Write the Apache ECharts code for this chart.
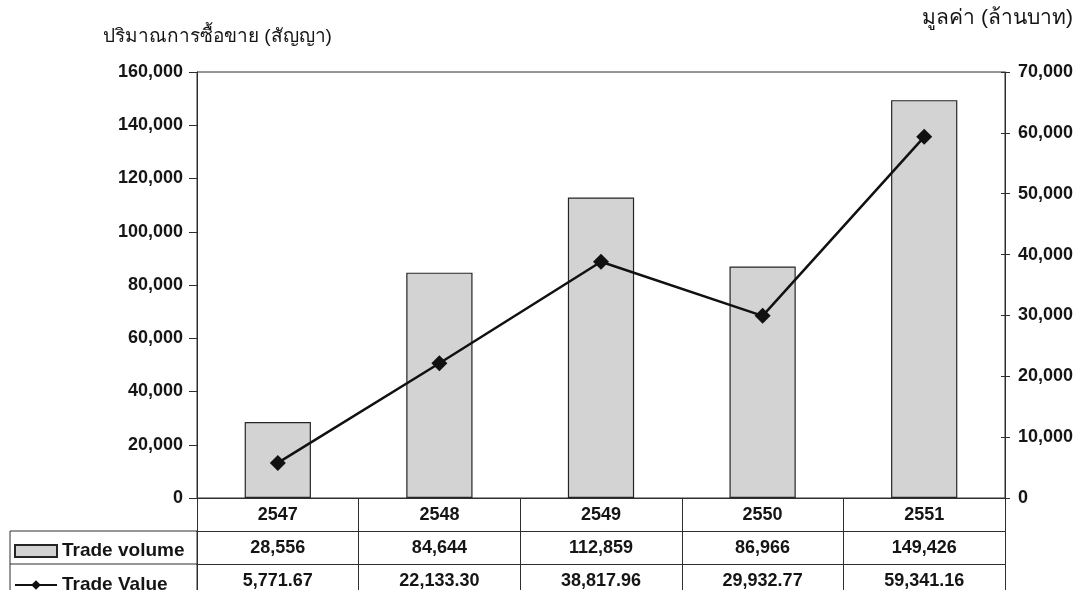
<!DOCTYPE html>
<html>
<head>
<meta charset="utf-8">
<script src="https://cdn.jsdelivr.net/npm/echarts@6/dist/echarts.min.js"></script>
<style>
  html, body { margin: 0; padding: 0; background: #ffffff; }
  #chart { width: 1082px; height: 590px; }
</style>
</head>
<body>
<div id="chart"></div>
<script>
// Years (Buddhist Era)
const years = ['2547', '2548', '2549', '2550', '2551'];
// Trade volume (contracts)
const tradeVolume = [28556, 84644, 112859, 86966, 149426];
// Trade value (million baht)
const tradeValue = [5771.67, 22133.30, 38817.96, 29932.77, 59341.16];
// Axis titles
const leftAxisTitle = 'ปริมาณการซื้อขาย (สัญญา)';
const rightAxisTitle = 'มูลค่า (ล้านบาท)';
const seriesNames = ['Trade volume', 'Trade Value'];

const FONT = '"Liberation Sans", Arial, "DejaVu Sans", sans-serif';
const INK = '#151515';
const RULE = '#2e2e2e';

const fmtInt = v => Number(v).toLocaleString('en-US');
const fmtDec = v => Number(v).toLocaleString('en-US', { minimumFractionDigits: 2, maximumFractionDigits: 2 });

const labelStyle = { fontFamily: FONT, fontSize: 18, fontWeight: 'bold', color: INK };

// one row of the data table under the plot, drawn as a category axis
function tableAxis(offset, formatter) {
  return {
    type: 'category',
    data: years,
    position: 'bottom',
    offset: offset,
    axisLine: { show: true, onZero: false, lineStyle: { color: RULE, width: 1 } },
    axisTick: { show: true, interval: 0, length: 33, lineStyle: { color: RULE, width: 1 } },
    axisLabel: Object.assign({ interval: 0, margin: 8, formatter: formatter }, labelStyle),
    splitLine: { show: false }
  };
}

// caption cell of the data table: series key + name
function legendRow(name, top, icon) {
  return {
    orient: 'horizontal',
    left: 9,
    top: top,
    itemWidth: 42,
    itemHeight: 12,
    itemGap: 5,
    textStyle: Object.assign({}, labelStyle, { fontSize: 19, lineHeight: 20 }),
    data: [icon ? { name: name, icon: icon } : { name: name }],
    selectedMode: false
  };
}

const chart = echarts.init(document.getElementById('chart'), null, { renderer: 'canvas' });

chart.setOption({
  animation: false,
  backgroundColor: '#ffffff',
  title: [
    { text: leftAxisTitle, left: 98, top: 22,
      textStyle: { fontFamily: FONT, fontSize: 19, fontWeight: 'normal', color: INK } },
    { text: rightAxisTitle, right: 4, top: 3,
      textStyle: { fontFamily: FONT, fontSize: 21, fontWeight: 'normal', color: INK } }
  ],
  grid: {
    left: 197, right: 77, top: 72, bottom: 92,
    show: true, borderColor: RULE, borderWidth: 1, backgroundColor: 'transparent'
  },
  legend: [
    legendRow(seriesNames[0], 536, 'rect'),
    legendRow(seriesNames[1], 570)
  ],
  xAxis: [
    tableAxis(0, v => v),
    tableAxis(33, (v, i) => fmtInt(tradeVolume[i])),
    tableAxis(66, (v, i) => fmtDec(tradeValue[i]))
  ],
  yAxis: [
    {
      type: 'value', min: 0, max: 160000, interval: 20000, position: 'left',
      axisLine: { show: true, lineStyle: { color: RULE } },
      axisTick: { show: true, length: 8, lineStyle: { color: RULE } },
      axisLabel: Object.assign({ margin: 14, formatter: fmtInt }, labelStyle),
      splitLine: { show: false }
    },
    {
      type: 'value', min: 0, max: 70000, interval: 10000, position: 'right',
      axisLine: { show: true, lineStyle: { color: RULE } },
      axisTick: { show: true, length: 5, lineStyle: { color: RULE } },
      axisLabel: Object.assign({ margin: 13, formatter: fmtInt }, labelStyle),
      splitLine: { show: false }
    },
    {
      // inner half of the crossing ticks on the value axis
      type: 'value', min: 0, max: 70000, interval: 10000, position: 'right',
      axisLine: { show: false },
      axisTick: { show: true, inside: true, length: 4, lineStyle: { color: RULE } },
      axisLabel: { show: false },
      splitLine: { show: false }
    }
  ],
  series: [
    {
      name: seriesNames[0],
      type: 'bar',
      xAxisIndex: 0, yAxisIndex: 0,
      data: tradeVolume,
      barWidth: '41%',
      itemStyle: { color: '#d3d3d3', borderColor: '#262626', borderWidth: 1.2 }
    },
    {
      name: seriesNames[1],
      type: 'line',
      xAxisIndex: 0, yAxisIndex: 1,
      data: tradeValue,
      symbol: 'diamond',
      symbolSize: 16,
      lineStyle: { color: '#111', width: 2.5 },
      itemStyle: { color: '#111' }
    }
  ],
  graphic: [
    // left column of the data table (series captions)
    { type: 'rect', silent: true, shape: { x: 10, y: 531, width: 187, height: 80 },
      style: { fill: 'none', stroke: RULE, lineWidth: 1 } },
    { type: 'line', silent: true, shape: { x1: 10, y1: 564, x2: 197, y2: 564 },
      style: { stroke: RULE, lineWidth: 1 } }
  ]
});
</script>
</body>
</html>
